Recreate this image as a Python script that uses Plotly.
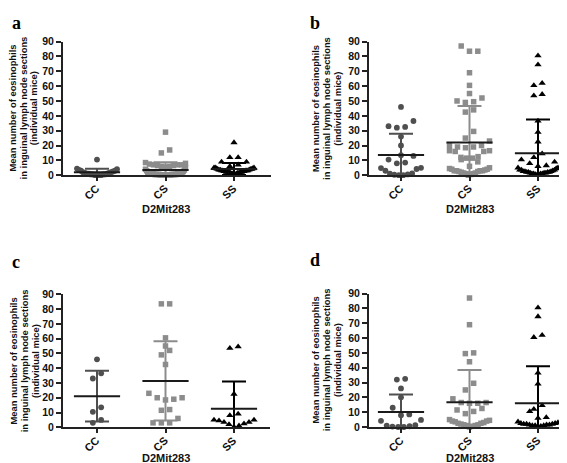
import numpy as np
import plotly.graph_objects as go

# ---------------- data ----------------
categories = ["CC", "CS", "SS"]
y_tick_values = [0, 10, 20, 30, 40, 50, 60, 70, 80, 90]
x_axis_title = "D2Mit283"
y_axis_title_lines = ["Mean number of eosinophils", "in inguinal lymph node sections", "(individual mice)"]
panel_letters = ["a", "b", "c", "d"]

# panel a
a_cc = [10.5, 4.5, 4, 3.5, 3, 3, 2.5, 2, 2, 1.5, 1.5, 1, 1, 1, 0.5, 0.5, 0.5, 0.5, 0, 0, 0, 0]
a_cs = [29, 17, 15, 8.5, 8, 7.5, 7, 7, 7, 6.5, 6.5, 6, 6, 5.5, 5, 4, 3.5, 3, 2.5, 2, 2,
        1.5, 1.5, 1.5, 1, 1, 1, 1, 1, 1, 0.5, 0.5, 0.5, 0.5, 0.5, 0.5, 0.5, 0.5, 0.5, 0.5,
        0, 0, 0, 0, 0, 0, 0, 0, 0, 0]
a_ss = [22, 12, 12, 9, 9, 7, 6, 5, 5, 5, 4.5, 4.5, 4, 4, 4, 3.5, 3.5, 3.5, 3, 3, 3, 3, 3,
        2.5, 2.5, 2.5, 2.5, 2, 2, 2, 2, 2, 1.5, 1.5, 1.5, 1, 1, 1, 0.5, 0.5]

# panel c
c_cc = [46, 36.5, 33, 13.5, 10.5, 5, 3]
c_cs = [83.5, 83.5, 60.5, 55, 52, 49, 42.5, 23, 20, 18.5, 19, 20, 12, 11.5, 6, 3, 3, 3]
c_ss = [54.5, 53.5, 22.5, 9, 8, 5, 4.5, 3.5, 2, 0.3, 1, 2.5, 3.5, 5]

# panel d
d_cc = [32.5, 32, 26, 20, 13, 8.5, 8, 4.8, 4.2, 1, 0.5, 0.3, 0, 0, 1.2]
d_cs = [87, 69, 50, 49.5, 44, 29.5, 25, 19, 16.5, 16, 16.5, 16, 12.5, 11.5, 10.5, 9,
        5, 4.5, 4, 4, 3.5, 3, 2.5, 2.5, 2, 1.5, 1.5, 1, 1, 0.5, 0]
d_ss = [80.5, 74.5, 62, 60.5, 36.5, 29, 14.5, 12, 10.5, 6.5, 6,
        3.5, 3, 2.5, 2.5, 2, 2, 2, 1.5, 1.5, 1.5, 1, 1, 1, 0.5, 0.5]

# panel b (all mice of panels c and d)
b_cc = [46, 36.5, 33, 13.5, 10.5, 5, 3,
        32.5, 32, 26, 20, 13, 8.5, 8, 4.8, 4.2, 1, 0.5, 0.3, 0, 0, 1.2]
b_cs = [83.5, 83.5, 60.5, 55, 52, 49, 42.5, 23, 20, 18.5, 19, 20, 12, 11.5, 6, 3, 3, 3,
        87, 69, 50, 49.5, 44, 29.5, 25, 19, 16.5, 16, 16.5, 16, 12.5, 11.5, 10.5, 9,
        5, 4.5, 4, 4, 3.5, 3, 2.5, 2.5, 2, 1.5, 1.5, 1, 1, 0.5, 0]
b_ss = [54.5, 53.5, 22.5, 9, 8, 5, 4.5, 3.5, 2, 0.3, 1, 2.5, 3.5, 5,
        80.5, 74.5, 62, 60.5, 36.5, 29, 14.5, 12, 10.5, 6.5, 6,
        3.5, 3, 2.5, 2.5, 2, 2, 2, 1.5, 1.5, 1.5, 1, 1, 1, 0.5, 0.5]

# ---------------- styling / layout ----------------
W, H = 567, 463
SANS = "Arial, 'Liberation Sans', sans-serif"
SERIF = "'Times New Roman', 'Liberation Serif', serif"
PX_PER_CAT = 68.5
CAT_FONT = 11

group_style = [
    dict(symbol="circle", size=5.8, color="#4f4f4f", err="#4f4f4f"),
    dict(symbol="square", size=5.5, color="#8c8c8c", err="#8c8c8c"),
    dict(symbol="triangle-up", size=6.4, color="#000000", err="#000000"),
]

panels = [
    dict(groups=[a_cc, a_cs, a_ss], x0=55, x1=263, ytop=28.3, ybot=165.5,
         ytitle_x=15, letter_x=2, letter_top=-3, xtitle_y=200.5),
    dict(groups=[b_cc, b_cs, b_ss], x0=361, x1=567, ytop=28.3, ybot=165.5,
         ytitle_x=318.5, letter_x=300, letter_top=-3, xtitle_y=200),
    dict(groups=[c_cc, c_cs, c_ss], x0=55, x1=262, ytop=287.7, ybot=424.3,
         ytitle_x=16.5, letter_x=2, letter_top=242.5, xtitle_y=455.5),
    dict(groups=[d_cc, d_cs, d_ss], x0=361, x1=567, ytop=287, ybot=424,
         ytitle_x=318, letter_x=300, letter_top=240, xtitle_y=455.5),
]
TITLE_LINE_GAP = 10.8


def swarm_offsets(values, px_per_unit, bin_h=5.0, step_px=8.3, max_w=40.0):
    """GraphPad-like column scatter: bin close values, spread each bin sideways."""
    vals = np.asarray(values, dtype=float)
    order = np.argsort(vals, kind="stable")
    offs = np.zeros(len(vals))
    bins, cur, start = [], [], None
    for idx in order:
        v = vals[idx]
        if cur and v - start > bin_h + 1e-9:
            bins.append(cur)
            cur = []
        if not cur:
            start = v
        cur.append(idx)
    if cur:
        bins.append(cur)
    for b in bins:
        n = len(b)
        s = step_px if n < 2 else min(step_px, max_w / (n - 1))
        slots = []
        if n % 2 == 1:
            slots.append(0.0)
            k = 1.0
            while len(slots) < n:
                slots.append(k)
                if len(slots) < n:
                    slots.append(-k)
                k += 1
        else:
            k = 0.5
            while len(slots) < n:
                slots.append(-k)
                slots.append(k)
                k += 1
        for idx, sl in zip(b, slots):
            offs[idx] = sl * s / px_per_unit
    return offs


fig = go.Figure()
layout = dict(
    width=W, height=H, margin=dict(l=0, r=0, t=0, b=0),
    paper_bgcolor="white", plot_bgcolor="white", showlegend=False,
    annotations=[],
)

for p, pan in enumerate(panels):
    n = "" if p == 0 else str(p + 1)
    xa, ya = "x" + n, "y" + n
    width_px = pan["x1"] - pan["x0"]
    xr0 = -34.0 / PX_PER_CAT if pan["x0"] < 300 else -32.0 / PX_PER_CAT
    xr = [xr0, xr0 + width_px / PX_PER_CAT]

    for gi, vals in enumerate(pan["groups"]):
        st = group_style[gi]
        offs = swarm_offsets(vals, PX_PER_CAT)
        fig.add_trace(go.Scatter(
            x=gi + offs, y=vals, mode="markers", xaxis=xa, yaxis=ya,
            marker=dict(symbol=st["symbol"], size=st["size"], color=st["color"],
                        line=dict(width=0)),
            cliponaxis=False, hoverinfo="skip", showlegend=False))
    for gi, vals in enumerate(pan["groups"]):
        st = group_style[gi]
        m = float(np.mean(vals))
        sd = float(np.std(vals, ddof=1))
        fig.add_trace(go.Scatter(
            x=[gi], y=[m], mode="markers", xaxis=xa, yaxis=ya,
            marker=dict(symbol="line-ew", size=33, color="#1a1a1a",
                        line=dict(width=2, color="#1a1a1a")),
            error_y=dict(type="data", array=[sd], symmetric=True, color=st["err"],
                         thickness=2, width=12),
            cliponaxis=True, hoverinfo="skip", showlegend=False))

    xdom = [pan["x0"] / W, min(1.0, pan["x1"] / W)]
    ydom = [1 - pan["ybot"] / H, 1 - pan["ytop"] / H]
    layout["xaxis" + n] = dict(
        domain=xdom, range=xr, anchor=ya, tickmode="array", tickvals=[0, 1, 2],
        ticktext=categories, showticklabels=False, showline=True,
        linecolor="#222222", linewidth=2, ticks="outside", ticklen=4, tickwidth=1.5,
        tickcolor="#222222", showgrid=False, zeroline=False, fixedrange=True)
    layout["yaxis" + n] = dict(
        domain=ydom, range=[0, 90], anchor=xa, tickmode="array",
        tickvals=y_tick_values, showline=True, linecolor="#222222", linewidth=2,
        ticks="outside", ticklen=5, tickwidth=1.5, tickcolor="#222222",
        showgrid=False, zeroline=False, fixedrange=True,
        tickfont=dict(family=SANS, size=10.5, color="#111111", weight="bold"))

    # rotated category labels under each tick
    for gi, cat in enumerate(categories):
        layout["annotations"].append(dict(
            text=cat, textangle=-45, xref=xa, yref="paper", x=gi, xshift=-5,
            y=1 - (pan["ybot"] + 17.5) / H, xanchor="center", yanchor="middle",
            showarrow=False,
            font=dict(family=SANS, size=CAT_FONT, color="#111111", weight="bold")))

    ymid = 1 - (pan["ytop"] + pan["ybot"]) / 2 / H
    for li, line in enumerate(y_axis_title_lines):
        layout["annotations"].append(dict(
            text=line, textangle=-90, xref="paper", yref="paper",
            x=(pan["ytitle_x"] + (li - 1) * TITLE_LINE_GAP) / W, y=ymid,
            xanchor="center", yanchor="middle", showarrow=False,
            font=dict(family=SANS, size=9.4, color="#111111", weight="bold")))
    layout["annotations"].append(dict(
        text=x_axis_title, xref=xa, yref="paper", x=1, y=1 - pan["xtitle_y"] / H,
        xanchor="center", yanchor="middle", showarrow=False,
        font=dict(family=SANS, size=11, color="#111111", weight="bold")))
    layout["annotations"].append(dict(
        text=panel_letters[p], xref="paper", yref="paper",
        x=pan["letter_x"] / W, y=1 - pan["letter_top"] / H,
        xanchor="left", yanchor="top", showarrow=False,
        font=dict(family=SERIF, size=18, color="#000000", weight="bold")))

fig.update_layout(**layout)
fig.write_html("out.html")
